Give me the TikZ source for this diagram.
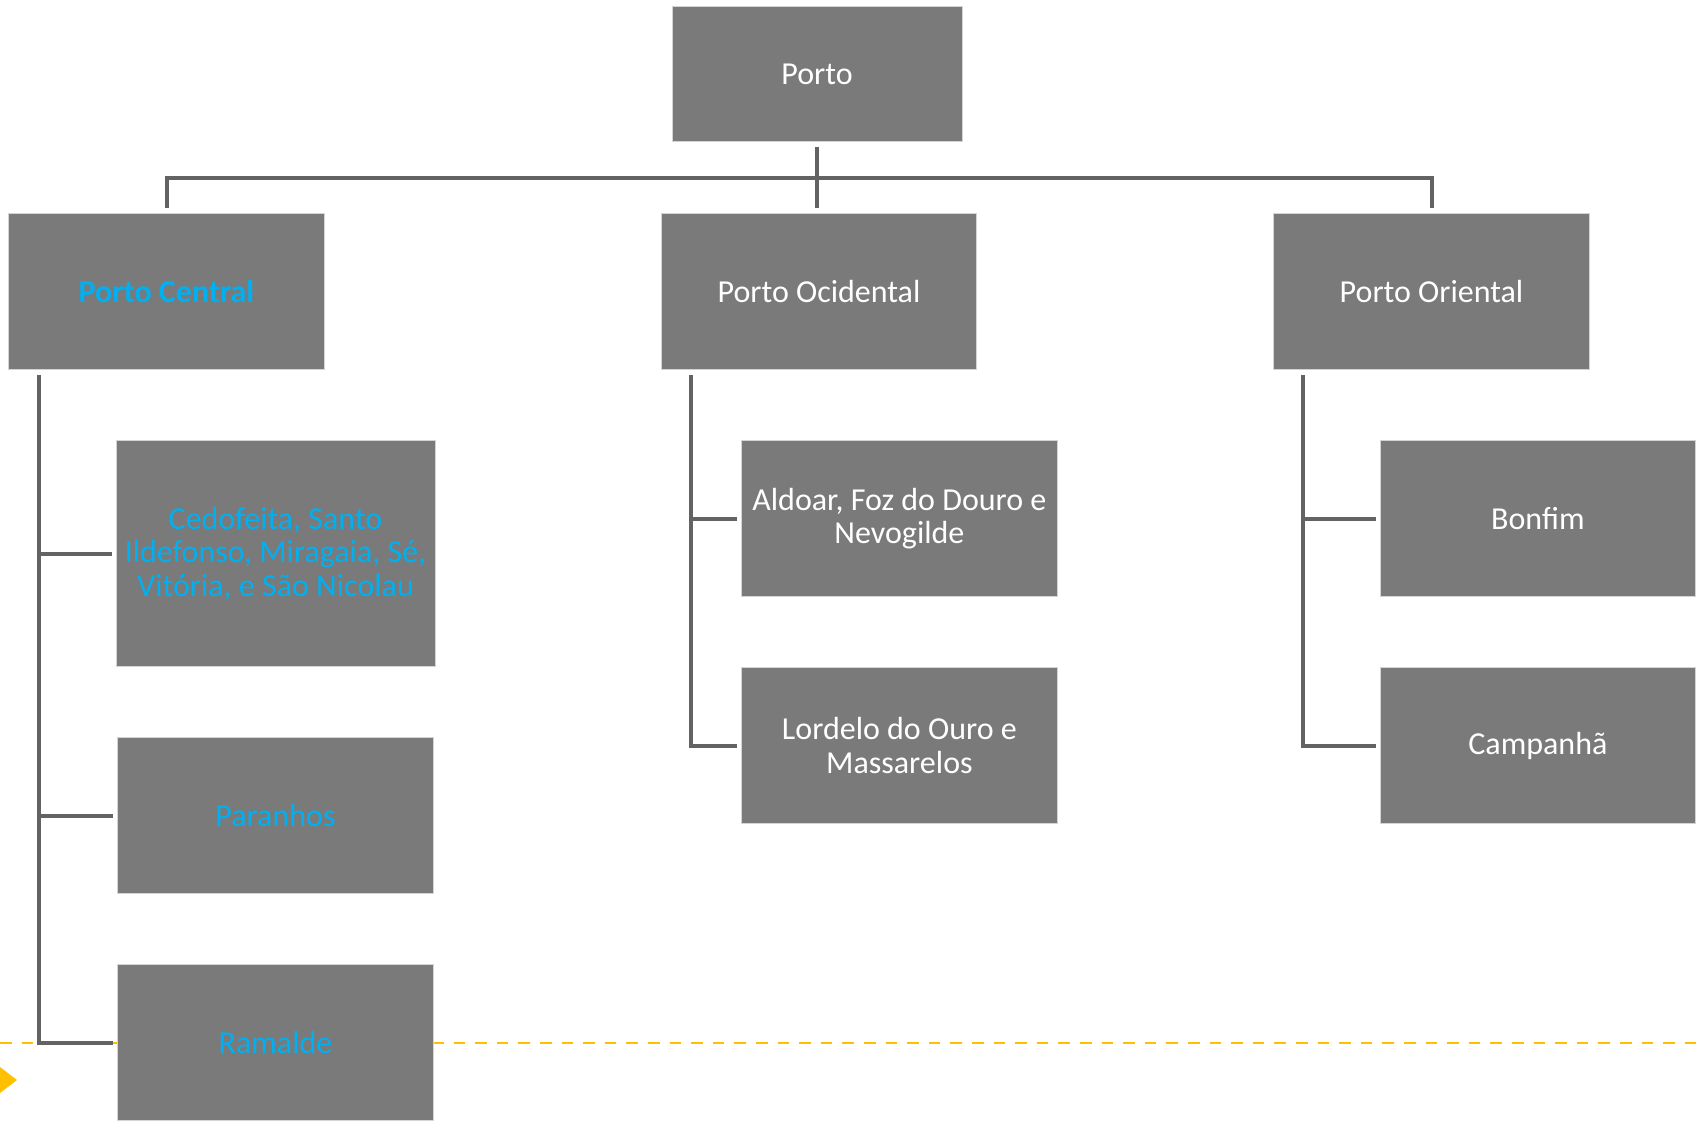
\documentclass[tikz,border=0pt]{standalone}
\usepackage{fontspec}
\setmainfont{Carlito}
\usetikzlibrary{positioning}
\usetikzlibrary{calc}
\usetikzlibrary{backgrounds}
\definecolor{boxgrey}{HTML}{7A7A7A}
\definecolor{edge}{HTML}{D4D4D4}
\definecolor{linkgrey}{HTML}{636363}
\definecolor{hilite}{HTML}{00B0F0}
\definecolor{gold}{HTML}{FFC000}
\tikzset{
  % A grey box of the city map
  area/.style={
    draw=edge, line width=0.5pt, fill=boxgrey, text=white, align=center,
    font=\fontsize{16}{16.8}\selectfont, inner sep=0pt,
    minimum width=#1, minimum height=78pt},
  area/.default=157.75pt,
  % Text picked out in blue
  picked/.style={text=hilite},
  % Connectors
  link/.style={draw=linkgrey, line width=2pt},
  guide/.style={draw=gold, line width=1pt, dash pattern=on 5.8pt off 5pt},
}

\begin{document}
\begin{tikzpicture}[x=1pt, y=-1pt]

  \useasboundingbox (0,0) rectangle (850,560);
  \coordinate (frameA) at (0,0);
  \coordinate (frameB) at (850,560);

  % --- Root -------------------------------------------------------------
  \node[area=145pt, minimum height=67.75pt] (porto) at (408.5,37) {Porto};

  % --- Zones ------------------------------------------------------------
  \node[area, below=35.5pt of porto, xshift=1pt] (ocid)    {Porto Ocidental};
  \node[area, picked, left=168pt of ocid]        (central) {\bfseries Porto Central};
  \node[area, right=148pt of ocid]               (orient)  {Porto Oriental};

  % --- Parishes ---------------------------------------------------------
  \node[area=159.5pt, minimum height=113pt, picked,
        below=35pt of central, xshift=54.5pt] (cedo)
       {Cedofeita, Santo\\Ildefonso, Miragaia, Sé,\\Vitória, e São Nicolau};
  \node[area, picked, below=35pt of cedo]  (paran) {Paranhos};
  \node[area, picked, below=35pt of paran] (ramal) {Ramalde};

  \node[area, below=35pt of ocid, xshift=40.2pt] (aldoar)  {Aldoar, Foz do Douro e\\Nevogilde};
  \node[area, below=35pt of aldoar]              (lordelo) {Lordelo do Ouro e\\Massarelos};

  \node[area, below=35pt of orient, xshift=53.2pt] (bonfim)   {Bonfim};
  \node[area, below=35pt of bonfim]                (campanha) {Campanhã};

  % --- Guide line -------------------------------------------------------
  \begin{scope}[on background layer]
    \draw[guide] (ramal.west -| frameA) -- (ramal.east -| frameB);
    \fill[gold] (-8,527.4) -- (8.5,540) -- (-8,552.6) -- cycle;
  \end{scope}

  % --- Tree lines -------------------------------------------------------
  \draw[link] ([yshift=-2.5pt]porto.south) -- ([yshift=2.5pt]porto.south |- ocid.north);
  \draw[link] ([yshift=2.5pt]central.north) |- ($(porto.south)!.5!(porto.south |- ocid.north)$)
              -| ([yshift=2.5pt]orient.north);

  \coordinate (ctrunk) at ([shift={(15.4pt,-2.5pt)}]central.south west);
  \draw[link] (ctrunk) |- ([xshift=-2pt]ramal.west);
  \draw[link] (ctrunk |- cedo.west) -- ([xshift=-2pt]cedo.west);
  \draw[link] (ctrunk |- paran.west) -- ([xshift=-2pt]paran.west);

  \coordinate (otrunk) at ([shift={(15pt,-2.5pt)}]ocid.south west);
  \draw[link] (otrunk) |- ([xshift=-2pt]lordelo.west);
  \draw[link] (otrunk |- aldoar.west) -- ([xshift=-2pt]aldoar.west);

  \coordinate (etrunk) at ([shift={(15pt,-2.5pt)}]orient.south west);
  \draw[link] (etrunk) |- ([xshift=-2pt]campanha.west);
  \draw[link] (etrunk |- bonfim.west) -- ([xshift=-2pt]bonfim.west);

\end{tikzpicture}
\end{document}
